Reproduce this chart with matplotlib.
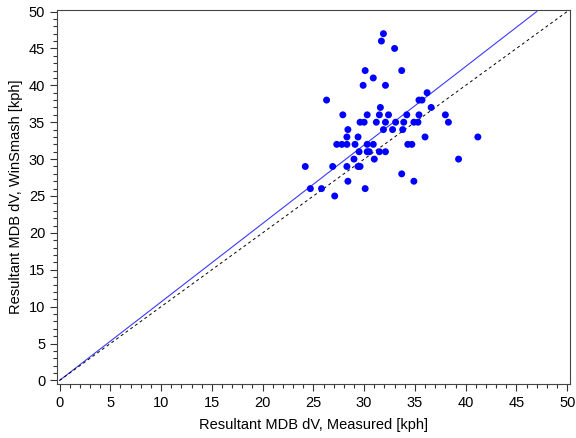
import matplotlib
matplotlib.use('Agg')
from matplotlib import pyplot as plt
from matplotlib.ticker import MultipleLocator

plt.rcParams['font.family'] = ['Liberation Sans', 'DejaVu Sans']

# measured dV (x) and WinSmash dV (y)
measured = [31.9, 31.7, 33.0, 30.1, 33.7, 30.9, 29.9, 32.1, 36.2,
            26.3, 35.4, 35.7, 31.6, 36.6,
            27.9, 30.3, 31.5, 32.4, 34.2, 35.4, 38.0,
            29.6, 30.0, 31.2, 32.1, 33.1, 33.9, 34.9, 35.3, 38.3,
            28.4, 31.9, 32.8, 33.8,
            28.3, 29.4, 36.0, 41.2,
            27.3, 27.8, 28.3, 29.1, 30.3, 30.9, 34.3, 34.7,
            29.5, 30.3, 30.5, 31.5, 32.1,
            29.0, 31.0, 39.3,
            24.2, 26.9, 28.3, 29.4, 29.6,
            33.7, 28.4, 34.9,
            24.7, 25.8, 30.1, 27.1]
winsmash = [47, 46, 45, 42, 42, 41, 40, 40, 39,
            38, 38, 38, 37, 37,
            36, 36, 36, 36, 36, 36, 36,
            35, 35, 35, 35, 35, 35, 35, 35, 35,
            34, 34, 34, 34,
            33, 33, 33, 33,
            32, 32, 32, 32, 32, 32, 32, 32,
            31, 31, 31, 31, 31,
            30, 30, 30,
            29, 29, 29, 29, 29,
            28, 27, 27,
            26, 26, 26, 25]

fit_x = [0, 47]
fit_y = [0, 50]
unity = [0, 50]

fig = plt.figure(figsize=(5.76, 4.38), dpi=100)
ax = fig.add_axes([0.099, 0.123, 0.891, 0.854])

ax.plot(fit_x, fit_y, color='#3a3aff', linewidth=0.8)
ax.plot(unity, unity, color='black', linewidth=0.7, dashes=(3, 3))
ax.scatter(measured, winsmash, s=25, color='#0000ff', edgecolors='none', zorder=3)

ax.set_xlim(-0.25, 50.3)
ax.set_ylim(-0.5, 50.2)
ax.xaxis.set_major_locator(MultipleLocator(5))
ax.yaxis.set_major_locator(MultipleLocator(5))
ax.xaxis.set_minor_locator(MultipleLocator(1))
ax.yaxis.set_minor_locator(MultipleLocator(1))
ax.tick_params(which='major', direction='out', length=5, width=0.8, labelsize=10.5, colors='#333333', labelcolor='black')
ax.tick_params(which='minor', direction='out', length=3, width=0.8, colors='#333333')
for s in ax.spines.values():
    s.set_color('#444444')
    s.set_linewidth(0.8)

ax.set_xlabel('Resultant MDB dV, Measured [kph]', fontsize=10.5, labelpad=6)
ax.set_ylabel('Resultant MDB dV, WinSmash [kph]', fontsize=10.5, labelpad=4)

plt.savefig('out.png', dpi=100)
